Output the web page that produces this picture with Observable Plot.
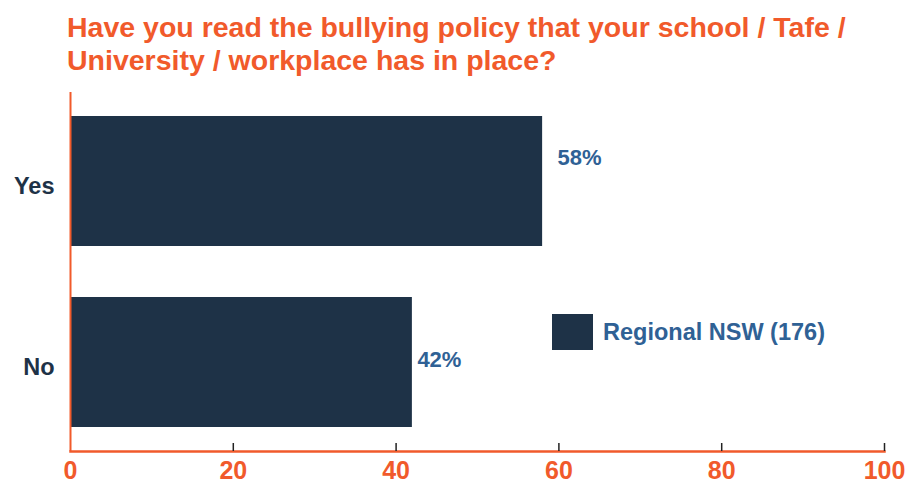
<!DOCTYPE html>
<html>
<head>
<meta charset="utf-8">
<script src="https://cdn.jsdelivr.net/npm/d3@7"></script>
<script src="https://cdn.jsdelivr.net/npm/@observablehq/plot@0.6"></script>
<style>
  html, body { margin: 0; padding: 0; background: #fff; }
  #wrap { position: relative; width: 906px; height: 484px; overflow: hidden; }
  #title { position: absolute; left: 67px; top: 11px; width: 839px; white-space: nowrap;
    font-family: "Liberation Sans", Arial, sans-serif;
    font-weight: bold; font-size: 28.5px; line-height: 33px; color: #F15A2B; }
  #chart { position: absolute; left: 0; top: 88px; }
  #legend { position: absolute; left: 552px; top: 314px; display: flex; align-items: center;
    font-family: "Liberation Sans", Arial, sans-serif; font-weight: bold; font-size: 23.5px; color: #2F6195; }
  #legend .sw { width: 41px; height: 36px; background: #1E3247; margin-right: 10px; }
</style>
</head>
<body>
<div id="wrap">
  <div id="title">Have you read the bullying policy that your school / Tafe /<br>University / workplace has in place?</div>
  <div id="chart"></div>
  <div id="legend"><div class="sw"></div><span id="legendText"></span></div>
</div>
<script>
const categories = ["Yes", "No"];
const values = [58, 42];
const seriesName = "Regional NSW (176)";
const xTicks = [0, 20, 40, 60, 80, 100];

const orange = "#F15A2B";
const navy = "#1E3247";
const blue = "#2F6195";
const data = categories.map((c, i) => ({cat: c, value: values[i]}));

document.getElementById("legendText").textContent = seriesName;

const plot = Plot.plot({
  width: 906,
  height: 396,
  marginTop: 4,
  marginLeft: 70,
  marginRight: 22,
  marginBottom: 33,
  style: {fontFamily: "'Liberation Sans', Arial, sans-serif", background: "#fff", overflow: "visible"},
  x: {domain: [0, 100]},
  y: {domain: categories, paddingInner: 0.283, paddingOuter: 0.133},
  marks: [
    Plot.barX(data, {x: "value", y: "cat", fill: navy}),
    Plot.ruleX([0], {stroke: orange, strokeWidth: 2}),
    Plot.frame({anchor: "bottom", stroke: orange, strokeWidth: 2.5}),
    Plot.axisX({ticks: xTicks.filter(d => d > 0), tickSize: -8, text: null, stroke: "#222", strokeWidth: 1.5, label: null}),
    Plot.axisX({ticks: xTicks, tickSize: 0, tickPadding: 10, label: null, fill: orange, fontSize: 25, fontWeight: "bold"}),
    Plot.axisY({tickSize: 0, tickPadding: 16, dy: 5, label: null, fill: navy, fontSize: 23.5, fontWeight: "bold"}),
    Plot.text(data.filter(d => d.cat === "Yes"), {x: "value", y: "cat", text: d => d.value + "%", dx: 15, dy: -24,
      textAnchor: "start", fill: blue, fontSize: 22, fontWeight: "bold"}),
    Plot.text(data.filter(d => d.cat === "No"), {x: "value", y: "cat", text: d => d.value + "%", dx: 5, dy: -3,
      textAnchor: "start", fill: blue, fontSize: 22, fontWeight: "bold"})
  ]
});
document.getElementById("chart").appendChild(plot);
</script>
</body>
</html>
